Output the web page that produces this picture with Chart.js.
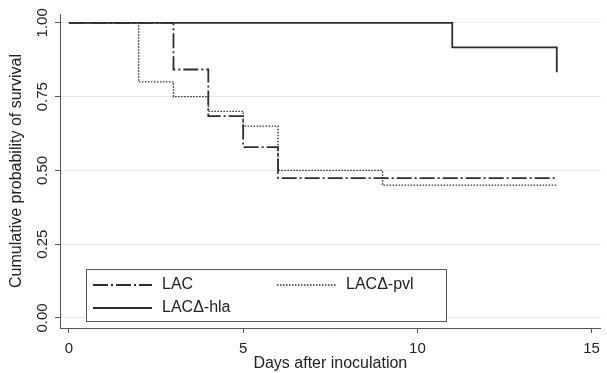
<!DOCTYPE html>
<html>
<head>
<meta charset="utf-8">
<script src="https://cdn.jsdelivr.net/npm/chart.js@4"></script>
<style>
  body { margin: 0; background: #fff; }
  #wrap { width: 607px; height: 373px; position: relative; }
</style>
</head>
<body>
<div id="wrap"><canvas id="km-chart"></canvas></div>
<script>
// Kaplan-Meier survival curves, days after inoculation

const lacDays = [0, 3, 4, 5, 6, 14];
const lacSurv = [1.0, 0.842, 0.684, 0.579, 0.474, 0.474];

const pvlDays = [0, 2, 3, 4, 5, 6, 9, 14];
const pvlSurv = [1.0, 0.8, 0.75, 0.7, 0.65, 0.5, 0.45, 0.45];

const hlaDays = [0, 11, 14];
const hlaSurv = [1.0, 0.917, 0.833];

const xTicks = [0, 5, 10, 15];
const yTicks = [0, 0.25, 0.5, 0.75, 1.0];

const FONT = "'Liberation Sans', Arial, Helvetica, sans-serif";
const INK = "#2e2e2e";

function toPoints(days, surv) {
  return days.map((d, i) => ({ x: d, y: surv[i] }));
}

// legend drawn in a box inside the plot, like the Stata original
const boxLegend = {
  id: "boxLegend",
  afterDraw(chart) {
    const ctx = chart.ctx;
    const ds = chart.data.datasets;
    const items = [
      { d: ds[0], x: 93, y: 285 },
      { d: ds[1], x: 277, y: 285 },
      { d: ds[2], x: 93, y: 308 },
    ];
    ctx.save();
    ctx.fillStyle = "#fff";
    ctx.fillRect(86.5, 269.5, 360, 52);
    ctx.strokeStyle = "#555";
    ctx.lineWidth = 1;
    ctx.strokeRect(86.5, 269.5, 360, 52);
    items.forEach((it) => {
      ctx.strokeStyle = it.d.borderColor;
      ctx.lineWidth = it.d.borderWidth;
      ctx.setLineDash(it.d.borderDash || []);
      ctx.beginPath();
      ctx.moveTo(it.x, it.y);
      ctx.lineTo(it.x + 59, it.y);
      ctx.stroke();
      ctx.setLineDash([]);
      ctx.fillStyle = "#222";
      ctx.font = "16px " + FONT;
      ctx.textAlign = "left";
      ctx.textBaseline = "middle";
      ctx.fillText(it.d.label, it.x + 69, it.y);
    });
    ctx.restore();
  },
};

// y tick labels are rotated and centred on the tick
const rotatedYLabels = {
  id: "rotatedYLabels",
  afterDraw(chart) {
    const ctx = chart.ctx;
    const scale = chart.scales.y;
    ctx.save();
    ctx.fillStyle = "#222";
    ctx.font = "15px " + FONT;
    ctx.textAlign = "center";
    ctx.textBaseline = "middle";
    yTicks.forEach((v) => {
      const y = scale.getPixelForValue(v);
      ctx.save();
      ctx.translate(43, y);
      ctx.rotate(-Math.PI / 2);
      ctx.fillText(v.toFixed(2), 0, 0);
      ctx.restore();
    });
    ctx.restore();
  },
};

const ctx = document.getElementById("km-chart").getContext("2d");

new Chart(ctx, {
  type: "line",
  data: {
    datasets: [
      {
        label: "LAC",
        data: toPoints(lacDays, lacSurv),
        borderColor: INK,
        borderWidth: 1.8,
        borderDash: [15, 3, 2, 3],
        stepped: "before",
        pointRadius: 0,
        fill: false,
      },
      {
        label: "LACΔ-pvl",
        data: toPoints(pvlDays, pvlSurv),
        borderColor: INK,
        borderWidth: 1.4,
        borderDash: [1.5, 1.5],
        stepped: "before",
        pointRadius: 0,
        fill: false,
      },
      {
        label: "LACΔ-hla",
        data: toPoints(hlaDays, hlaSurv),
        borderColor: INK,
        borderWidth: 1.8,
        stepped: "before",
        pointRadius: 0,
        fill: false,
      },
    ],
  },
  options: {
    responsive: true,
    maintainAspectRatio: false,
    animation: false,
    layout: { padding: { top: 14, right: 2, left: 0, bottom: 0 } },
    plugins: {
      legend: { display: false },
      tooltip: { enabled: false },
    },
    scales: {
      x: {
        type: "linear",
        min: -0.256,
        max: 15.26,
        afterBuildTicks: (s) => { s.ticks = xTicks.map((v) => ({ value: v })); },
        afterFit: (s) => { s.height = 45; },
        border: { color: "#555", width: 1 },
        grid: {
          drawOnChartArea: false,
          drawTicks: true,
          tickLength: 5,
          tickColor: "#555",
        },
        ticks: {
          color: "#222",
          font: { family: FONT, size: 15 },
          padding: 7,
          maxRotation: 0,
          callback: (v) => String(v),
        },
        title: {
          display: true,
          text: "Days after inoculation",
          color: "#222",
          font: { family: FONT, size: 16 },
          padding: { top: 0, bottom: 0 },
        },
      },
      y: {
        type: "linear",
        min: -0.034,
        max: 1.03,
        afterBuildTicks: (s) => { s.ticks = yTicks.map((v) => ({ value: v })); },
        afterFit: (s) => { s.width = 60; },
        border: { color: "#555", width: 1 },
        grid: {
          color: "#e6e6e6",
          lineWidth: 1,
          drawTicks: true,
          tickLength: 5,
          tickColor: "#555",
        },
        ticks: { display: false },
        title: {
          display: true,
          text: "Cumulative probability of survival",
          color: "#222",
          font: { family: FONT, size: 16 },
          padding: { top: 7, bottom: 0 },
        },
      },
    },
  },
  plugins: [rotatedYLabels, boxLegend],
});
</script>
</body>
</html>
